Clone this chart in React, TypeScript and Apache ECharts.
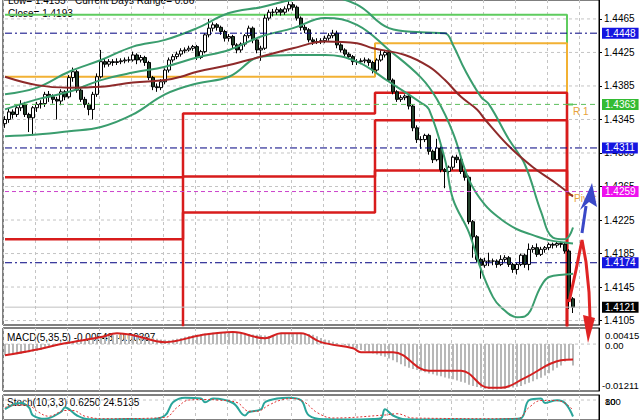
import React, { useEffect, useRef } from "react";
import * as echarts from "echarts";

const SLOTS = 149;
const categories = Array.from({ length: SLOTS }, (_, i) => String(i));

// [open, close, low, high]
const ohlc: number[][] = [
  [1.4340, 1.4345, 1.4335, 1.4349], [1.4345, 1.4354, 1.4341, 1.4358], [1.4354, 1.4351, 1.4346, 1.4357], [1.4351, 1.4359, 1.4348, 1.4362],
  [1.4359, 1.4363, 1.4355, 1.4368], [1.4363, 1.4351, 1.4348, 1.4366], [1.4351, 1.4347, 1.4330, 1.4353], [1.4347, 1.4359, 1.4326, 1.4361],
  [1.4359, 1.4363, 1.4354, 1.4366], [1.4363, 1.4364, 1.4358, 1.4368], [1.4364, 1.4375, 1.4360, 1.4378], [1.4375, 1.4372, 1.4366, 1.4379],
  [1.4372, 1.4369, 1.4364, 1.4375], [1.4369, 1.4367, 1.4345, 1.4372], [1.4367, 1.4378, 1.4362, 1.4381], [1.4378, 1.4372, 1.4368, 1.4380],
  [1.4372, 1.4395, 1.4370, 1.4398], [1.4395, 1.4402, 1.4390, 1.4407], [1.4402, 1.4380, 1.4377, 1.4404], [1.4380, 1.4369, 1.4366, 1.4383],
  [1.4369, 1.4363, 1.4359, 1.4372], [1.4363, 1.4357, 1.4350, 1.4365], [1.4357, 1.4375, 1.4345, 1.4378], [1.4375, 1.4396, 1.4372, 1.4400],
  [1.4396, 1.4414, 1.4394, 1.4428], [1.4414, 1.4411, 1.4407, 1.4418], [1.4411, 1.4414, 1.4408, 1.4417], [1.4414, 1.4413, 1.4409, 1.4417],
  [1.4413, 1.4414, 1.4410, 1.4418], [1.4414, 1.4415, 1.4411, 1.4418], [1.4415, 1.4416, 1.4412, 1.4419], [1.4416, 1.4416, 1.4413, 1.4420],
  [1.4416, 1.4422, 1.4414, 1.4426], [1.4422, 1.4416, 1.4411, 1.4424], [1.4416, 1.4419, 1.4413, 1.4422], [1.4419, 1.4413, 1.4409, 1.4421],
  [1.4413, 1.4395, 1.4392, 1.4415], [1.4395, 1.4384, 1.4380, 1.4397], [1.4384, 1.4383, 1.4378, 1.4388], [1.4383, 1.4390, 1.4380, 1.4393],
  [1.4390, 1.4404, 1.4387, 1.4406], [1.4404, 1.4416, 1.4401, 1.4419], [1.4416, 1.4420, 1.4413, 1.4423], [1.4420, 1.4423, 1.4417, 1.4426],
  [1.4423, 1.4427, 1.4420, 1.4430], [1.4427, 1.4428, 1.4424, 1.4431], [1.4428, 1.4430, 1.4426, 1.4433], [1.4430, 1.4432, 1.4427, 1.4434],
  [1.4432, 1.4419, 1.4416, 1.4434], [1.4419, 1.4426, 1.4417, 1.4428], [1.4426, 1.4446, 1.4424, 1.4448], [1.4446, 1.4454, 1.4443, 1.4465],
  [1.4454, 1.4458, 1.4450, 1.4461], [1.4458, 1.4455, 1.4451, 1.4460], [1.4455, 1.4450, 1.4446, 1.4457], [1.4450, 1.4442, 1.4438, 1.4452],
  [1.4442, 1.4444, 1.4438, 1.4447], [1.4444, 1.4434, 1.4430, 1.4446], [1.4434, 1.4428, 1.4424, 1.4436], [1.4428, 1.4435, 1.4425, 1.4437],
  [1.4435, 1.4445, 1.4432, 1.4447], [1.4445, 1.4454, 1.4442, 1.4457], [1.4454, 1.4440, 1.4436, 1.4456], [1.4440, 1.4428, 1.4424, 1.4442],
  [1.4428, 1.4430, 1.4415, 1.4433], [1.4430, 1.4466, 1.4428, 1.4470], [1.4466, 1.4473, 1.4463, 1.4476], [1.4473, 1.4473, 1.4468, 1.4477],
  [1.4473, 1.4476, 1.4470, 1.4479], [1.4476, 1.4473, 1.4469, 1.4478], [1.4473, 1.4477, 1.4470, 1.4480], [1.4477, 1.4482, 1.4474, 1.4486],
  [1.4482, 1.4479, 1.4475, 1.4485], [1.4479, 1.4466, 1.4463, 1.4481], [1.4466, 1.4455, 1.4451, 1.4468], [1.4455, 1.4452, 1.4448, 1.4458],
  [1.4452, 1.4440, 1.4437, 1.4454], [1.4440, 1.4438, 1.4434, 1.4443], [1.4438, 1.4438, 1.4435, 1.4442], [1.4438, 1.4439, 1.4435, 1.4442],
  [1.4439, 1.4442, 1.4436, 1.4445], [1.4442, 1.4445, 1.4439, 1.4448], [1.4445, 1.4448, 1.4442, 1.4452], [1.4448, 1.4434, 1.4430, 1.4451],
  [1.4434, 1.4428, 1.4425, 1.4436], [1.4428, 1.4423, 1.4420, 1.4430], [1.4423, 1.4420, 1.4417, 1.4425], [1.4420, 1.4414, 1.4410, 1.4422],
  [1.4414, 1.4414, 1.4410, 1.4417], [1.4414, 1.4415, 1.4411, 1.4418], [1.4415, 1.4416, 1.4412, 1.4419], [1.4416, 1.4413, 1.4409, 1.4418],
  [1.4413, 1.4404, 1.4400, 1.4415], [1.4404, 1.4416, 1.4402, 1.4418], [1.4416, 1.4422, 1.4414, 1.4428], [1.4422, 1.4425, 1.4419, 1.4428],
  [1.4425, 1.4392, 1.4390, 1.4428], [1.4392, 1.4378, 1.4375, 1.4394], [1.4378, 1.4369, 1.4366, 1.4380], [1.4369, 1.4371, 1.4366, 1.4374],
  [1.4371, 1.4373, 1.4368, 1.4375], [1.4373, 1.4361, 1.4357, 1.4375], [1.4361, 1.4335, 1.4331, 1.4363], [1.4335, 1.4321, 1.4317, 1.4338],
  [1.4321, 1.4321, 1.4310, 1.4325], [1.4321, 1.4326, 1.4318, 1.4328], [1.4326, 1.4307, 1.4303, 1.4328], [1.4307, 1.4297, 1.4293, 1.4309],
  [1.4297, 1.4311, 1.4295, 1.4322], [1.4311, 1.4285, 1.4282, 1.4313], [1.4285, 1.4283, 1.4263, 1.4287], [1.4283, 1.4288, 1.4279, 1.4290],
  [1.4288, 1.4300, 1.4285, 1.4302], [1.4300, 1.4297, 1.4293, 1.4303], [1.4297, 1.4283, 1.4280, 1.4299], [1.4283, 1.4276, 1.4272, 1.4285],
  [1.4276, 1.4223, 1.4220, 1.4278], [1.4223, 1.4205, 1.4180, 1.4225], [1.4205, 1.4178, 1.4175, 1.4207], [1.4178, 1.4171, 1.4155, 1.4180],
  [1.4171, 1.4176, 1.4168, 1.4180], [1.4176, 1.4176, 1.4170, 1.4186], [1.4176, 1.4176, 1.4171, 1.4179], [1.4176, 1.4172, 1.4168, 1.4178],
  [1.4172, 1.4178, 1.4170, 1.4183], [1.4178, 1.4180, 1.4175, 1.4183], [1.4180, 1.4172, 1.4169, 1.4182], [1.4172, 1.4166, 1.4162, 1.4174],
  [1.4166, 1.4172, 1.4160, 1.4174], [1.4172, 1.4183, 1.4170, 1.4185], [1.4183, 1.4172, 1.4168, 1.4185], [1.4172, 1.4190, 1.4165, 1.4197],
  [1.4190, 1.4192, 1.4186, 1.4195], [1.4192, 1.4184, 1.4181, 1.4197], [1.4184, 1.4190, 1.4182, 1.4193], [1.4190, 1.4192, 1.4186, 1.4194],
  [1.4192, 1.4196, 1.4189, 1.4198], [1.4196, 1.4195, 1.4191, 1.4198], [1.4195, 1.4197, 1.4192, 1.4199], [1.4197, 1.4196, 1.4192, 1.4199],
  [1.4196, 1.4188, 1.4185, 1.4199], [1.4188, 1.4131, 1.4119, 1.4190], [1.4131, 1.4121, 1.4114, 1.4133],
];

// Bollinger bands and moving average: [bar index, price] readings
const bandUpper: number[][] = [
  [0, 1.4375], [8, 1.4383], [16, 1.4402], [24, 1.4416], [32, 1.4432], [40, 1.4440], [48, 1.4454], [56, 1.4472],
  [64, 1.4479], [72, 1.4488], [80, 1.4491], [88, 1.4482], [96, 1.4454], [104, 1.4449], [110, 1.4448], [112, 1.4434],
  [115, 1.4404], [119, 1.4372], [121, 1.4363], [126, 1.4321], [130, 1.4291], [134, 1.4235], [137, 1.4204],
  [140, 1.4202], [142, 1.4216],
];
const bandMiddle: number[][] = [
  [0, 1.4357], [8, 1.4369], [16, 1.4378], [24, 1.4392], [32, 1.4401], [40, 1.4408], [48, 1.4419], [56, 1.4428],
  [64, 1.4444], [72, 1.4454], [80, 1.4466], [88, 1.4458], [96, 1.4428], [104, 1.4395], [108, 1.4369], [112, 1.4329],
  [116, 1.4273], [120, 1.4243], [124, 1.4226], [128, 1.4214], [132, 1.4207], [136, 1.4201], [142, 1.4197],
];
const bandLower: number[][] = [
  [0, 1.4325], [8, 1.4327], [16, 1.4331], [24, 1.4336], [32, 1.4351], [40, 1.4375], [48, 1.4388], [56, 1.4396],
  [64, 1.4420], [72, 1.4422], [80, 1.4422], [88, 1.4414], [96, 1.4390], [104, 1.4365], [106, 1.4357], [110, 1.4297],
  [112, 1.4250], [116, 1.4210], [119, 1.4166], [122, 1.4133], [124, 1.4121], [128, 1.4109], [130, 1.4110],
  [134, 1.4146], [136, 1.4157], [140, 1.4160], [142, 1.4161],
];
const movingAvg: number[][] = [
  [0, 1.4396], [8, 1.4386], [16, 1.4383], [24, 1.4384], [32, 1.4389], [40, 1.4392], [44, 1.4396], [48, 1.4402],
  [56, 1.4410], [64, 1.4420], [72, 1.4430], [80, 1.4438], [88, 1.4436], [92, 1.4430], [100, 1.4422], [106, 1.4408],
  [110, 1.4392], [114, 1.4372], [118, 1.4357], [120, 1.4345], [126, 1.4313], [132, 1.4288], [138, 1.4268], [142, 1.4253],
];

// daily levels (one value per day)
const dayStart = [0, 45, 93, 141];
const greenLevel = [1.4470, 1.4470, 1.4470, 1.4363];
const orangeLevel = [1.4396, 1.4396, 1.4436, 1.4255];
const redLevel1 = [1.4276, 1.4352, 1.4377, 1.4050];
const redLevel2 = [1.4202, 1.4277, 1.4344, 1.4000];
const redLevel3 = [1.4050, 1.4234, 1.4284, 1.3950];

const priceTicks = [1.4465, 1.4425, 1.4385, 1.4345, 1.4305, 1.4265, 1.4225, 1.4185, 1.4145, 1.4105];
const levelValues = [1.4448, 1.4363, 1.4311, 1.4259, 1.4174, 1.4121];
const levelLineColors = ["#000080", "#5cbf5c", "#000080", "#cc44cc", "#000080", "#c0c0c0"];
const levelBoxColors = ["#1515e0", "#33bb33", "#1515e0", "#ee11ee", "#1515e0", "#000000"];
const levelDashes: any[] = [[7, 3, 2, 3], [5, 4], [7, 3, 2, 3], [4, 3], [7, 3, 2, 3], "solid"];

const macdMain = [
  -0.0029, -0.0028, -0.0027, -0.0026, -0.0025, -0.0023, -0.0021, -0.0019, -0.0017, -0.0015,
  -0.0011, -0.0008, -0.0006, -0.0004, -0.0002, 0.0002, 0.0005, 0.0007, 0.0009, 0.0010,
  0.0011, 0.0013, 0.0015, 0.0017, 0.0019, 0.0020, 0.0021, 0.0023, 0.0024, 0.0025,
  0.0026, 0.0026, 0.0025, 0.0024, 0.0022, 0.0020, 0.0018, 0.0016, 0.0014, 0.0012,
  0.0011, 0.0010, 0.0012, 0.0014, 0.0016, 0.0019, 0.0021, 0.0023, 0.0024, 0.0026,
  0.0027, 0.0028, 0.0029, 0.0030, 0.0031, 0.0031, 0.0031, 0.0030, 0.0029, 0.0028,
  0.0027, 0.0026, 0.0025, 0.0024, 0.0023, 0.0022, 0.0021, 0.0022, 0.0024, 0.0026,
  0.0027, 0.0028, 0.0028, 0.0028, 0.0027, 0.0027, 0.0026, 0.0024, 0.0020, 0.0016,
  0.0012, 0.0010, 0.0006, 0.0003, 0.0000, -0.0003, -0.0006, -0.0009, -0.0012, -0.0015,
  -0.0018, -0.0021, -0.0024, -0.0027, -0.0030, -0.0033, -0.0037, -0.0042, -0.0047, -0.0052,
  -0.0057, -0.0061, -0.0064, -0.0067, -0.0070, -0.0073, -0.0076, -0.0078, -0.0081, -0.0083,
  -0.0086, -0.0089, -0.0091, -0.0094, -0.0097, -0.0100, -0.0105, -0.0108, -0.0111, -0.0113,
  -0.0115, -0.0116, -0.0117, -0.0117, -0.0116, -0.0115, -0.0113, -0.0112, -0.0110, -0.0108,
  -0.0104, -0.0100, -0.0096, -0.0091, -0.0087, -0.0081, -0.0075, -0.0068, -0.0061, -0.0055,
  -0.0045, -0.0040, -0.0055,
];
const macdSignal: number[][] = [
  [0, -0.0029], [7, -0.0016], [15, 0.0002], [24, 0.0018], [28, 0.0028], [32, 0.0023], [40, 0.0005], [49, 0.0023],
  [57, 0.0031], [65, 0.0015], [69, 0.0028], [74, 0.0028], [79, 0.0005], [87, -0.0011], [89, -0.0021], [97, -0.0021],
  [106, -0.0069], [114, -0.0069], [121, -0.0113], [124, -0.0113], [130, -0.0087], [139, -0.0042], [142, -0.0040],
];

const stochMain: number[][] = [
  [0, 43], [2, 61], [4, 68], [6, 50], [7, 18], [10, 5], [14, 32], [15, 50], [18, 18], [21, 3], [26, 2], [31, 4],
  [36, 2], [40, 18], [42, 71], [45, 89], [49, 86], [50, 71], [52, 86], [57, 68], [60, 18], [61, 32], [64, 43],
  [65, 71], [68, 86], [71, 89], [74, 79], [76, 18], [80, 3], [86, 2], [92, 4], [94, 7], [95, 43], [97, 18],
  [100, 3], [106, 2], [112, 3], [119, 2], [126, 4], [129, 7], [131, 79], [134, 86], [135, 68], [138, 79],
  [140, 68], [142, 14],
];
const stochSignal: number[][] = [
  [0, 50], [3, 60], [6, 58], [8, 35], [11, 15], [15, 38], [17, 38], [20, 15], [25, 5], [40, 10], [43, 50],
  [46, 80], [50, 82], [53, 80], [58, 70], [61, 35], [63, 35], [66, 60], [69, 80], [72, 86], [75, 70], [78, 30],
  [82, 8], [95, 20], [98, 25], [102, 8], [128, 5], [131, 50], [134, 78], [137, 78], [139, 75], [142, 40],
];

const FONT = "Liberation Sans";
const LAST = SLOTS - 1;

function stepData(lv: number[]) {
  const out: number[] = [];
  for (let i = 0; i < ohlc.length; i++) {
    let d = 0;
    for (let k = 0; k < dayStart.length; k++) if (i >= dayStart[k]) d = k;
    out.push(lv[d]);
  }
  return out;
}

function stepSeries(lv: number[], color: string, width: number) {
  return {
    type: "line",
    xAxisIndex: 0,
    yAxisIndex: 0,
    step: "middle",
    symbol: "none",
    silent: true,
    z: 2,
    data: stepData(lv),
    lineStyle: { color, width },
  };
}

function curve(data: number[][], color: string, width: number, x = 0, dash: any = "solid") {
  return {
    type: "line",
    xAxisIndex: x,
    yAxisIndex: x,
    data,
    smooth: 0.4,
    symbol: "none",
    silent: true,
    z: 4,
    lineStyle: { color, width, type: dash },
  };
}

// straight horizontal line across a whole panel, as a plain line series
function hLine(value: number, color: string, dash: any, axis: number, z: number, label?: { text: string; box: string }) {
  return {
    type: "line",
    xAxisIndex: axis,
    yAxisIndex: axis,
    data: [[0, value], [LAST, value]],
    symbol: "none",
    silent: true,
    z,
    lineStyle: { color, type: dash, width: 1 },
    endLabel: label
      ? {
          show: true,
          formatter: label.text,
          color: "#fff",
          backgroundColor: label.box,
          padding: [1, 3, 0, 3],
          fontFamily: FONT,
          fontSize: 10,
          distance: 5,
        }
      : { show: false },
  };
}

const xAxisBase = (gridIndex: number) => ({
  type: "category",
  gridIndex,
  data: categories,
  boundaryGap: true,
  axisLine: { show: false },
  axisTick: { show: false },
  axisLabel: { show: false },
  splitLine: { show: true, interval: 7, lineStyle: { color: "#c4c4c4", type: [3, 3], width: 1 } },
});

function buildOption(): any {
  const series: any[] = [];
  priceTicks.forEach((v) => series.push(hLine(v, "#c4c4c4", [3, 3], 0, 1)));
  series.push(stepSeries(greenLevel, "#5fcc5f", 2));
  series.push(stepSeries(orangeLevel, "#f2b133", 2));
  series.push(stepSeries(redLevel1, "#d81c1c", 2.5));
  series.push(stepSeries(redLevel2, "#d81c1c", 2.5));
  series.push(stepSeries(redLevel3, "#d81c1c", 2.5));
  series.push({
    type: "candlestick",
    xAxisIndex: 0,
    yAxisIndex: 0,
    data: ohlc,
    barWidth: 3,
    silent: true,
    z: 3,
    itemStyle: { color: "#ffffff", color0: "#22402a", borderColor: "#000", borderColor0: "#000", borderWidth: 1 },
  });
  series.push(curve(bandUpper, "#3a9d6e", 2));
  series.push(curve(bandMiddle, "#3a9d6e", 2));
  series.push(curve(bandLower, "#3a9d6e", 2));
  series.push(curve(movingAvg, "#8e2a2a", 2));
  levelValues.forEach((v, i) =>
    series.push(hLine(v, levelLineColors[i], levelDashes[i], 0, 6, { text: v.toFixed(4), box: levelBoxColors[i] }))
  );
  series.push({
    type: "bar",
    xAxisIndex: 1,
    yAxisIndex: 1,
    data: macdMain,
    barWidth: 2,
    silent: true,
    itemStyle: { color: "#b8b8b8" },
  });
  series.push(hLine(0, "#c4c4c4", [3, 3], 1, 1));
  series.push(curve(macdSignal, "#d42020", 2, 1));
  series.push(hLine(80, "#c4c4c4", [3, 3], 2, 1));
  series.push(curve(stochMain, "#2aa59a", 2, 2));
  series.push(curve(stochSignal, "#e03030", 1, 2, [2, 2]));

  const f = `10px "${FONT}"`;
  const fs = `9.5px "${FONT}"`;
  return {
    animation: false,
    backgroundColor: "#ffffff",
    grid: [
      { left: 3, top: 0, width: 596, height: 325, show: true, borderColor: "#000", borderWidth: 1, backgroundColor: "transparent" },
      { left: 3, top: 328, width: 596, height: 63, show: true, borderColor: "#000", borderWidth: 1, backgroundColor: "transparent" },
      { left: 3, top: 395, width: 596, height: 28, show: true, borderColor: "#000", borderWidth: 1, backgroundColor: "transparent" },
    ],
    xAxis: [xAxisBase(0), xAxisBase(1), xAxisBase(2)],
    yAxis: [
      {
        type: "value",
        gridIndex: 0,
        position: "right",
        min: 1.40997,
        max: 1.44876,
        axisLine: { show: true, lineStyle: { color: "#000" } },
        axisTick: { show: true, length: 3, customValues: priceTicks, lineStyle: { color: "#000" } },
        axisLabel: {
          show: true,
          customValues: priceTicks,
          formatter: (v: number) => v.toFixed(4),
          color: "#000",
          fontFamily: FONT,
          fontSize: 10,
          margin: 5,
        },
        splitLine: { show: false },
      },
      {
        type: "value",
        gridIndex: 1,
        position: "right",
        min: -0.01211,
        max: 0.00415,
        axisLine: { show: true, lineStyle: { color: "#000" } },
        axisTick: { show: false },
        axisLabel: { show: false },
        splitLine: { show: false },
      },
      {
        type: "value",
        gridIndex: 2,
        position: "right",
        min: 0,
        max: 100,
        axisLine: { show: true, lineStyle: { color: "#000" } },
        axisTick: { show: false },
        axisLabel: { show: false },
        splitLine: { show: false },
      },
    ],
    series,
    graphic: [
      { type: "text", left: 8, top: -5, style: { text: "Low= 1.4155", fill: "#000", font: f } },
      { type: "text", left: 75, top: -5, style: { text: "Current Days Range= 0.86", fill: "#000", font: f } },
      { type: "text", left: 8, top: 8, style: { text: "Close= 1.4193", fill: "#000", font: f } },
      { type: "text", left: 573, top: 106, style: { text: "R 1", fill: "#e8a23a", font: f } },
      { type: "text", left: 574, top: 193, style: { text: "Pivot", fill: "#e8a23a", font: f } },
      { type: "text", left: 7, top: 332, style: { text: "MACD(5,35,5) -0.00548 -0.00397", fill: "#000", font: f } },
      { type: "text", left: 605, top: 330, style: { text: "0.00415", fill: "#000", font: fs } },
      { type: "text", left: 605, top: 340, style: { text: "0.00", fill: "#000", font: fs } },
      { type: "text", left: 602, top: 380, style: { text: "-0.01211", fill: "#000", font: fs } },
      { type: "text", left: 7, top: 397, style: { text: "Stoch(10,3,3) 0.6250 24.5135", fill: "#000", font: f } },
      { type: "text", left: 605, top: 396, style: { text: "100", fill: "#000", font: fs } },
      { type: "text", left: 605, top: 396, style: { text: "80", fill: "#000", font: fs } },
      {
        type: "polyline",
        z: 100,
        shape: { points: [[582, 233], [586, 206]] },
        style: { stroke: "#3a48c8", lineWidth: 3, fill: null },
      },
      {
        type: "polygon",
        z: 100,
        shape: { points: [[580, 210], [592, 183], [597, 207], [589, 202]] },
        style: { fill: "#3a48c8" },
      },
      {
        type: "polyline",
        z: 100,
        shape: { points: [[569, 302], [576, 270], [582, 240], [586, 262], [589, 292], [590, 318]] },
        style: { stroke: "#e02424", lineWidth: 3, fill: null },
      },
      {
        type: "polygon",
        z: 100,
        shape: { points: [[583, 315], [595, 318], [588, 343]] },
        style: { fill: "#e02424" },
      },
    ],
  };
}

export default function App() {
  const ref = useRef<HTMLDivElement>(null);
  useEffect(() => {
    if (!ref.current) return;
    const chart = echarts.init(ref.current, null, { renderer: "svg" });
    chart.setOption(buildOption());
    return () => chart.dispose();
  }, []);
  return (
    <div
      ref={ref}
      style={{ position: "fixed", left: 0, top: 0, width: 640, height: 420, background: "#fff" }}
    />
  );
}
